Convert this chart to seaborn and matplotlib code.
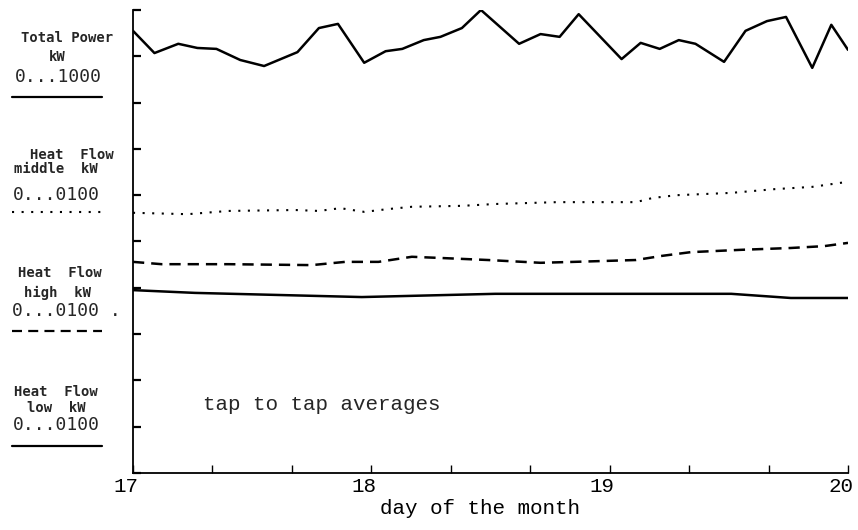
import numpy as np
import seaborn as sns
import matplotlib.pyplot as plt
from matplotlib.lines import Line2D
from matplotlib.ticker import MultipleLocator
import matplotlib.transforms as mtrans

# --- data (x = day of month, y = plot units 0..10) ---
total_day = [17.00, 17.09, 17.19, 17.27, 17.35, 17.45, 17.55, 17.69, 17.78, 17.86,
             17.97, 18.06, 18.13, 18.22, 18.29, 18.38, 18.46, 18.62, 18.71, 18.79,
             18.87, 19.05, 19.13, 19.21, 19.29, 19.36, 19.48, 19.57, 19.66, 19.74,
             19.85, 19.93, 20.00]
total_val = [9.55, 9.07, 9.27, 9.18, 9.16, 8.92, 8.79, 9.09, 9.61, 9.70,
             8.86, 9.11, 9.16, 9.35, 9.42, 9.61, 10.00, 9.27, 9.48, 9.42,
             9.91, 8.94, 9.29, 9.16, 9.35, 9.27, 8.88, 9.55, 9.76, 9.85,
             8.75, 9.68, 9.14]

middle_day = [17.00, 17.23, 17.40, 17.68, 17.78, 17.87, 17.97, 18.07, 18.17, 18.38,
              18.52, 18.78, 19.11, 19.18, 19.28, 19.51, 19.69, 19.85, 20.00]
middle_val = [5.62, 5.59, 5.66, 5.68, 5.66, 5.72, 5.64, 5.70, 5.75, 5.77,
              5.81, 5.85, 5.85, 5.94, 6.00, 6.05, 6.13, 6.18, 6.29]

high_day = [17.00, 17.12, 17.40, 17.75, 17.89, 18.03, 18.17, 18.31, 18.49, 18.71,
            18.85, 19.11, 19.22, 19.34, 19.55, 19.76, 19.90, 20.00]
high_val = [4.56, 4.51, 4.51, 4.49, 4.56, 4.56, 4.67, 4.64, 4.60, 4.54,
            4.56, 4.60, 4.69, 4.77, 4.82, 4.86, 4.90, 4.97]

low_day = [17.00, 17.26, 17.96, 18.52, 19.05, 19.51, 19.76, 20.00]
low_val = [3.95, 3.89, 3.80, 3.87, 3.87, 3.87, 3.78, 3.78]

day_ticks = [17, 18, 19, 20]

W, H = 858, 530
sns.set_style("ticks")
plt.rcParams['font.family'] = ['Liberation Mono', 'DejaVu Sans Mono']

fig = plt.figure(figsize=(W / 100, H / 100), dpi=100)
ax = fig.add_axes([133 / W, 1 - 473 / H, (848 - 133) / W, (473 - 10) / H])

DOT = (0, (1.0, 3.6))
DASH = (0, (4.5, 2.8))

sns.lineplot(x=total_day, y=total_val, ax=ax, color='black', lw=1.8)
sns.lineplot(x=middle_day, y=middle_val, ax=ax, color='black', lw=1.5, linestyle=DOT)
sns.lineplot(x=high_day, y=high_val, ax=ax, color='black', lw=1.8, linestyle=DASH)
sns.lineplot(x=low_day, y=low_val, ax=ax, color='black', lw=1.8)

ax.set_xlim(17, 20)
ax.set_ylim(0, 10)
ax.set_xticks(day_ticks)
ax.set_xticklabels([str(d) for d in day_ticks])
ax.xaxis.set_minor_locator(MultipleLocator(1 / 3))
ax.yaxis.set_major_locator(MultipleLocator(1))
ax.set_yticklabels([])
ax.tick_params(axis='x', which='both', direction='in', length=6, width=1, color='black',
               pad=3, labelsize=15, labelcolor='black')
ax.tick_params(axis='y', which='major', direction='in', length=6, width=1.6, color='black')
shift = mtrans.ScaledTranslation(5 / 100, 0, fig.dpi_scale_trans)
for lab in ax.get_xticklabels():
    lab.set_horizontalalignment('right')
    lab.set_transform(lab.get_transform() + shift)
sns.despine(ax=ax)
for s in ['left', 'bottom']:
    ax.spines[s].set_linewidth(1.3)
    ax.spines[s].set_color('black')
ax.set_xlabel("day of the month", fontsize=15, color='black')
ax.xaxis.set_label_coords(0.485, -0.057)
ax.set_ylabel("")

fig.text(203 / W, 1 - 405 / H, "tap to tap averages", fontsize=15, va='center', ha='left')


# left-hand legend block
def ftext(x, y, s, **kw):
    fig.text(x / W, 1 - y / H, s, va='center', **kw)


bold = dict(fontsize=10, fontweight='bold', family=['DejaVu Sans Mono'], ha='center')
rng = dict(fontsize=13, family=['DejaVu Sans Mono'], ha='center')

ftext(67, 38, "Total Power", **bold)
ftext(57, 57, "kW", **bold)
ftext(58, 77, "0...1000", **rng)

ftext(72, 155, "Heat  Flow", **bold)
ftext(56, 169, "middle  kW", **bold)
ftext(56, 195, "0...0100", **rng)

ftext(60, 273, "Heat  Flow", **bold)
ftext(57, 293, "high  kW", **bold)
ftext(66, 311, "0...0100 .", **rng)

ftext(56, 392, "Heat  Flow", **bold)
ftext(56, 408, "low  kW", **bold)
ftext(56, 425, "0...0100", **rng)

keys = [(97, '-', 1.6), (212, DOT, 1.5), (331, DASH, 1.6), (446, '-', 1.6)]
for y, ls, lw in keys:
    fig.add_artist(Line2D([12 / W, 102 / W], [1 - y / H, 1 - y / H], color='black',
                          lw=lw, linestyle=ls, transform=fig.transFigure))

fig.savefig("out.png", dpi=100)
